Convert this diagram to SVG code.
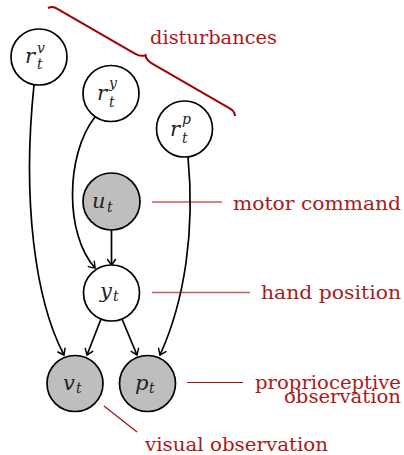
<svg xmlns="http://www.w3.org/2000/svg" width="404" height="455" viewBox="0 0 404 455">
<style>
.node{fill:#fff;stroke:#000;stroke-width:1.7}
.obs{fill:#bebebe;stroke:#000;stroke-width:1.7}
.edge{fill:none;stroke:#000;stroke-width:1.7}
.m{font-family:"DejaVu Serif","Liberation Serif",serif;font-style:italic;font-size:21px;fill:#222}
.s{font-family:"DejaVu Serif","Liberation Serif",serif;font-style:italic;font-size:14px;fill:#222}
.lab{font-family:"DejaVu Serif","Liberation Serif",serif;font-size:19px;fill:#aa1a1a}
.pale{stroke:#cc5c5c;stroke-width:1.4;fill:none}
.dark{stroke:#a81010;stroke-width:1.2;fill:none}
</style>
<defs>
<marker id="arr" viewBox="-7 -5 9 10" markerWidth="9" markerHeight="10" refX="0" refY="0" orient="auto" markerUnits="userSpaceOnUse">
<path d="M-5.5,-4 Q-1.5,-1.2 0,0 Q-1.5,1.2 -5.5,4" fill="none" stroke="#000" stroke-width="1.5" stroke-linecap="round"/>
</marker>
</defs>
<g id="annotations">
<path d="M0,0 C3,-4 6,-4 10,-4 L98,-4 C103,-4 106,-5 108,-8 C110,-5 113,-4 118,-4 L206,-4 C210,-4 213,-4 216,0" transform="translate(48,8) rotate(30)" fill="none" stroke="#a00000" stroke-width="2"/>
<text class="lab" x="150" y="43.5" textLength="127" lengthAdjust="spacingAndGlyphs">disturbances</text>
<line class="pale" x1="152" y1="202" x2="222" y2="202"/>
<line class="pale" x1="152" y1="292.5" x2="250" y2="292.5"/>
</g>
<g id="connectors">
<path class="edge" d="M34,85 C22,200 35,300 64,355" marker-end="url(#arr)"/>
<path class="edge" d="M95,117 C65,155 65,235 95,268" marker-end="url(#arr)"/>
<path class="edge" d="M188,157 C195,230 185,300 160,355" marker-end="url(#arr)"/>
<path class="edge" d="M111.5,230 L111.5,265" marker-end="url(#arr)"/>
<path class="edge" d="M101,319 L87,355" marker-end="url(#arr)"/>
<path class="edge" d="M122,319 L137,355" marker-end="url(#arr)"/>
</g>
<g id="n-rv">
<circle class="node" cx="39" cy="57" r="28"/>
<text class="m" x="25" y="63">r</text><text class="s" x="37" y="53">v</text><text class="s" x="37" y="69">t</text>
</g>
<g id="n-ry">
<circle class="node" cx="111" cy="93.5" r="28"/>
<text class="m" x="97" y="100">r</text><text class="s" x="109" y="88">y</text><text class="s" x="109" y="107">t</text>
</g>
<g id="n-rp">
<circle class="node" cx="184.5" cy="129" r="28"/>
<text class="m" x="170" y="136">r</text><text class="s" x="182" y="124">p</text><text class="s" x="182" y="143">t</text>
</g>
<g id="n-u">
<circle class="obs" cx="111.5" cy="201.5" r="28.5"/>
<text class="m" x="92" y="208">u</text><text class="s" x="107" y="212">t</text>
</g>
<g id="n-y">
<circle class="node" cx="111.5" cy="293" r="28"/>
<text class="m" x="100" y="298">y</text><text class="s" x="113" y="301">t</text>
</g>
<g id="n-v">
<circle class="obs" cx="75" cy="383.5" r="28"/>
<text class="m" x="63" y="390">v</text><text class="s" x="76" y="393">t</text>
</g>
<g id="n-p">
<circle class="obs" cx="147.5" cy="383.5" r="28"/>
<text class="m" x="135" y="390">p</text><text class="s" x="149" y="393">t</text>
</g>
<g id="labels">
<text class="lab" x="233" y="210" textLength="168" lengthAdjust="spacingAndGlyphs">motor command</text>
<text class="lab" x="261" y="299" textLength="140" lengthAdjust="spacingAndGlyphs">hand position</text>
<line class="dark" x1="187" y1="382.5" x2="243" y2="382.5"/>
<text class="lab" x="255" y="388.5" textLength="146" lengthAdjust="spacingAndGlyphs">proprioceptive</text>
<text class="lab" x="284" y="403" textLength="117" lengthAdjust="spacingAndGlyphs">observation</text>
<line class="dark" x1="104" y1="406" x2="137" y2="432"/>
<text class="lab" x="145" y="451" textLength="183" lengthAdjust="spacingAndGlyphs">visual observation</text>
</g>
</svg>
